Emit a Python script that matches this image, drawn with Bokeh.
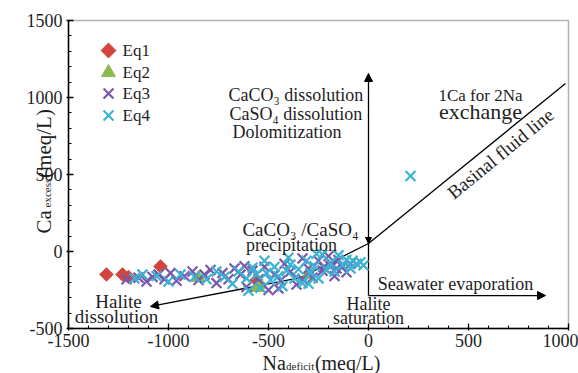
import numpy as np
from bokeh.plotting import figure
from bokeh.models import (Range1d, FixedTicker, Label, Arrow, NormalHead,
                          PrintfTickFormatter, BoxAnnotation)
from bokeh.embed import file_html
from bokeh.resources import INLINE

# ---------------- data ----------------
eq1_na = [-1310, -1230, -1040, -1200, -560]
eq1_ca = [-149, -149, -97, -165, -185]

eq2_na = [-540, -560, -850, -300]
eq2_ca = [-215, -235, -170, -150]

eq3_na = [-1210, -1150, -1110, -1080, -1050, -1020, -990, -960, -920, -880,
          -850, -820, -790, -760, -730, -700, -670, -640, -610, -580,
          -550, -520, -500, -470, -440, -420, -390, -360, -330, -300,
          -280, -250, -230, -200, -190, -170, -150, -130, -110, -90,
          -225, -180, -160, -620, -450, -330]
eq3_ca = [-180, -170, -195, -165, -150, -180, -140, -190, -160, -130,
          -185, -150, -120, -205, -140, -180, -110, -150, -230, -125,
          -180, -100, -250, -150, -190, -80, -130, -215, -45, -110,
          -170, -60, -125, -30, -95, -160, -55, -100, -135, -80,
          -103, -85, -110, -95, -240, -180]

eq4_na = [-1170, -1130, -1060, -1000, -940, -870, -810, -760, -720, -680,
          -650, -610, -580, -560, -540, -510, -490, -470, -450, -430,
          -410, -390, -370, -350, -330, -310, -290, -270, -250, -230,
          -210, -190, -170, -150, -130, -110, -90, -80, -60, -40, -25,
          -600, -520, -400, -300, -260, 210]
eq4_ca = [-175, -150, -160, -195, -150, -165, -180, -130, -165, -210,
          -130, -175, -105, -150, -235, -140, -185, -100, -160, -225,
          -125, -85, -175, -115, -205, -60, -140, -95, -175, -20,
          -120, -75, -130, -25, -90, -55, -110, -60, -80, -70, -90,
          -255, -60, -40, -210, -15, 490]

series_names = ["Eq1", "Eq2", "Eq3", "Eq4"]

x_ticks = [-1500, -1000, -500, 0, 500, 1000]
y_ticks = [-500, 0, 500, 1000, 1500]
x_minor = list(range(-1500, 1001, 100))
y_minor = list(range(-500, 1501, 100))

SERIF = "Liberation Serif"
INK = "#1e1e1e"
C1, C2, C3, C4 = "#d1453e", "#8cba4b", "#7a56ad", "#3cb2d2"

# the plotting box (-1500..1000, -500..1500) sits at x 68..568, y 20..328
XS, YS = 0.2, 0.154
x_range = Range1d(-1500 - 68 / XS, -1500 - 68 / XS + 578 / XS)
y_range = Range1d(1500 + 20 / YS - 373 / YS, 1500 + 20 / YS)

p = figure(width=578, height=373, x_range=x_range, y_range=y_range,
           output_backend="svg", toolbar_location=None,
           min_border_left=0, min_border_right=0, min_border_top=0,
           min_border_bottom=0)
p.background_fill_color = "white"
p.border_fill_color = "white"
p.grid.grid_line_color = None
p.outline_line_color = None

p.xaxis.fixed_location = -500
p.yaxis.fixed_location = -1500
p.xaxis.bounds = (-1500, 1000)
p.yaxis.bounds = (-500, 1500)
p.xaxis.ticker = FixedTicker(ticks=x_ticks, minor_ticks=x_minor)
p.yaxis.ticker = FixedTicker(ticks=y_ticks, minor_ticks=y_minor)
for ax in (p.xaxis, p.yaxis):
    ax.formatter = PrintfTickFormatter(format="%d")
    ax.axis_line_width = 1.5
    ax.axis_line_color = "black"
    ax.major_tick_in = 5
    ax.major_tick_out = 2
    ax.minor_tick_in = 3
    ax.minor_tick_out = 0
    ax.major_tick_line_width = 1.3
    ax.minor_tick_line_width = 1.1
    ax.major_label_text_font = SERIF
    ax.major_label_text_font_size = "18px"
    ax.major_label_text_color = INK
p.xaxis.major_label_standoff = 3
p.yaxis.major_label_standoff = 4

p.add_layout(BoxAnnotation(left=-1500, right=1000, bottom=-500, top=1500,
                           fill_alpha=0, line_color="black", line_width=1.5))

# ---------------- process lines (under the points) ----------------
LW = 1.3
def arrow(x0, y0, x1, y1, s=8):
    p.add_layout(Arrow(end=NormalHead(size=s, fill_color="black", line_color="black"),
                       x_start=x0, y_start=y0, x_end=x1, y_end=y1,
                       line_width=LW, line_color="black", level="underlay"))
arrow(0, -286, 0, 1156)
arrow(0, -286, 885, -286)
arrow(-340, -170, -1090, -357)
arrow(0, 90, 0, 52, s=6)
p.line([0, 985], [52, 1091], line_color="black", line_width=LW)
p.line([0, -340], [52, -170], line_color="black", line_width=LW)

# ---------------- scatter ----------------
p.scatter(eq1_na, eq1_ca, marker="square", angle=np.pi / 4, size=9.5,
          fill_color=C1, line_color=C1)
p.scatter(eq2_na, eq2_ca, marker="triangle", size=13,
          fill_color=C2, line_color=C2)
p.scatter(eq3_na, eq3_ca, marker="x", size=14, line_color=C3, line_width=2.2)
p.scatter(eq4_na, eq4_ca, marker="x", size=14, line_color=C4, line_width=2.2)

# ---------------- key (legend) ----------------
key_y = [1305, 1162, 1026, 883]
p.scatter([-1300], [key_y[0]], marker="square", angle=np.pi / 4, size=10.5,
          fill_color=C1, line_color=C1)
p.scatter([-1300], [key_y[1]], marker="triangle", size=14,
          fill_color=C2, line_color=C2)
p.scatter([-1300], [key_y[2]], marker="x", size=14, line_color=C3, line_width=2.2)
p.scatter([-1300], [key_y[3]], marker="x", size=14, line_color=C4, line_width=2.2)

# ---------------- annotations ----------------
def lab(x, y, t, size=18, align="center", angle=0.0, base="middle"):
    p.add_layout(Label(x=x, y=y, text=t, text_font=SERIF,
                       text_font_size=f"{size}px", text_color=INK,
                       text_align=align, text_baseline=base, angle=angle))

for name, yy in zip(series_names, key_y):
    lab(-1230, yy, name, size=17, align="left")

lab(-700, 1019, "CaCO₃ dissolution", align="left")
lab(-695, 896, "CaSO₄ dissolution", align="left")
lab(-680, 773, "Dolomitization", align="left")
lab(560, 1013, "1Ca for 2Na", size=17)
lab(560, 909, "exchange", size=22)
lab(660, 636, "Basinal fluid line", size=19, angle=0.685)
lab(-340, 143, "CaCO₃ /CaSO₄", size=19)
lab(-385, 39, "precipitation", size=18)
lab(435, -214, "Seawater evaporation", size=18)
lab(0, -338, "Halite", size=18)
lab(0, -435, "saturation", size=18)
lab(-1250, -325, "Halite", size=19)
lab(-1260, -422, "dissolution", size=19)

# axis titles (with subscripts)
lab(-530, -725, "Na", size=20, align="left", base="alphabetic")
lab(-412, -744, "deficit", size=11, align="left", base="alphabetic")
lab(-268, -725, "(meq/L)", size=20, align="left", base="alphabetic")

lab(-1625, 117, "Ca", size=21, align="left", base="alphabetic", angle=np.pi / 2)
lab(-1610, 286, "excess", size=11, align="left", base="alphabetic", angle=np.pi / 2)
lab(-1625, 478, "(meq/L)", size=21, align="left", base="alphabetic", angle=np.pi / 2)

open("out.html", "w").write(file_html(p, INLINE))
